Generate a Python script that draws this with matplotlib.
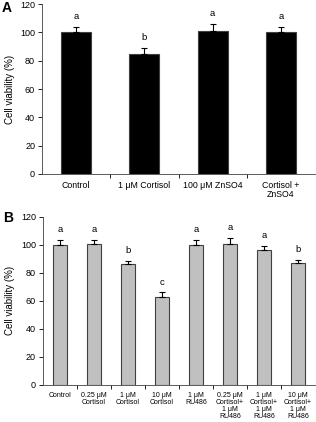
import matplotlib
matplotlib.use("Agg")
import matplotlib.pyplot as plt
import numpy as np

plt.rcParams['font.family'] = ['Liberation Sans', 'DejaVu Sans']

# panel A
cats_a = ["Control", "1 μM Cortisol", "100 μM ZnSO4", "Cortisol +\nZnSO4"]
vals_a = [100, 85, 101, 100]
err_a = [4, 4, 5, 4]
let_a = ["a", "b", "a", "a"]

# panel B
cats_b = ["Control", "0.25 μM\nCortisol", "1 μM\nCortisol", "10 μM\nCortisol", "1 μM\nRU486",
          "0.25 μM\nCortisol+\n1 μM\nRU486", "1 μM\nCortisol+\n1 μM\nRU486", "10 μM\nCortisol+\n1 μM\nRU486"]
vals_b = [100, 100.5, 86, 62.5, 100, 100.5, 96, 87]
err_b = [3.5, 3, 2.5, 3.5, 3.5, 4.5, 3.5, 2.5]
let_b = ["a", "a", "b", "c", "a", "a", "a", "b"]

fig = plt.figure(figsize=(3.16, 4.22), dpi=100)
axA = fig.add_axes([0.133, 0.588, 0.864, 0.402])
axB = fig.add_axes([0.136, 0.088, 0.861, 0.398])


def panel(ax, cats, vals, errs, lets, color, width, fs_x):
    x = np.arange(len(cats))
    ax.bar(x, vals, width=width, color=color, edgecolor='#404040', linewidth=0.8, zorder=2)
    ax.errorbar(x, vals, yerr=[np.zeros(len(errs)), errs], fmt='none', ecolor='black',
                elinewidth=0.8, capsize=2.5, capthick=0.8, zorder=3)
    for xi, v, e, l in zip(x, vals, errs, lets):
        ax.text(xi, v + e + 4, l, ha='center', va='bottom', fontsize=6.8)
    ax.set_xlim(-0.5, len(cats) - 0.5)
    ax.set_ylim(0, 120)
    ax.set_yticks(range(0, 121, 20))
    ax.set_xticks(x)
    ax.set_xticklabels(cats, fontsize=fs_x, linespacing=1.0)
    ax.set_xticks(np.arange(0.5, len(cats) - 0.5, 1), minor=True)
    ax.tick_params(axis='x', which='major', length=0, pad=5)
    ax.tick_params(axis='x', which='minor', length=3, width=0.6, direction='out')
    ax.tick_params(axis='y', labelsize=6.5, length=3, width=0.6, pad=2)
    for s in ['top', 'right']:
        ax.spines[s].set_visible(False)
    for s in ['left', 'bottom']:
        ax.spines[s].set_linewidth(0.6)
        ax.spines[s].set_color('#404040')
    ax.set_ylabel("Cell viability (%)", fontsize=7, labelpad=4)


panel(axA, cats_a, vals_a, err_a, let_a, 'black', 0.44, 6.3)
panel(axB, cats_b, vals_b, err_b, let_b, '#c0c0c0', 0.42, 5)

fig.text(0.022, 0.982, "A", fontsize=10, fontweight='bold', ha='center', va='center')
fig.text(0.025, 0.483, "B", fontsize=10, fontweight='bold', ha='center', va='center')

fig.savefig("out.png", dpi=100)
